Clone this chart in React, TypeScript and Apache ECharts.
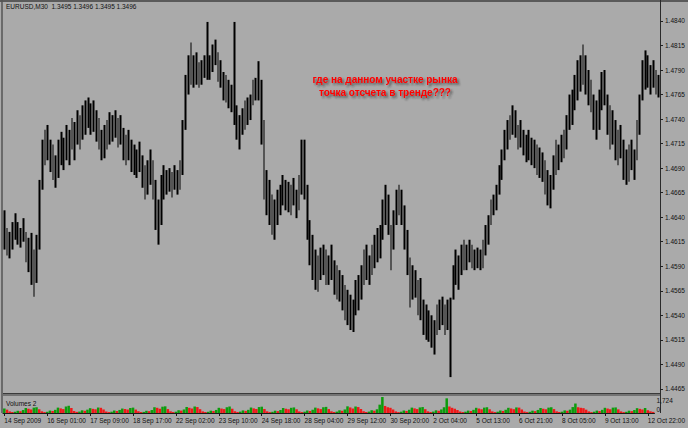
import React, { useEffect, useRef } from "react";
import * as echarts from "echarts";

const FONT = '"Liberation Sans", Arial, sans-serif';
const BG = "#aaaaaa";
const GREEN = "#0c9c0c";
const RED = "#f01818";

const titleText = "EURUSD,M30  1.3495 1.3496 1.3495 1.3496";
const noteLines = ["где на данном участке рынка", "точка отсчета в тренде???"];
const volumeTitle = "Volumes 2";

const tickLabels = [
  "14 Sep 2009", "16 Sep 01:00", "17 Sep 09:00", "18 Sep 17:00", "22 Sep 02:00",
  "23 Sep 10:00", "24 Sep 18:00", "28 Sep 04:00", "29 Sep 12:00", "30 Sep 20:00",
  "2 Oct 04:00", "5 Oct 13:00", "6 Oct 21:00", "8 Oct 05:00", "9 Oct 13:00", "12 Oct 22:00",
];

const priceTicks = [
  1.4465, 1.449, 1.4515, 1.454, 1.4565, 1.459, 1.4615, 1.464,
  1.4665, 1.469, 1.4715, 1.474, 1.4765, 1.479, 1.4815, 1.484,
];

const highs = [
  1.4647,1.4629,1.4625,1.4635,1.4644,1.4635,1.4629,1.4639,1.4625,1.4619,1.4624,1.4607,
  1.4622,1.4678,1.4719,1.4729,1.4734,1.4719,1.4714,1.4703,1.4719,1.4727,1.4721,1.4734,
  1.4729,1.4741,1.4737,1.4749,1.4744,1.4754,1.4759,1.4762,1.4756,1.4759,1.4749,1.4741,
  1.4729,1.4734,1.4739,1.4747,1.4744,1.4749,1.4741,1.4744,1.4731,1.4724,1.4729,1.4719,
  1.4714,1.4709,1.4717,1.4703,1.4693,1.4698,1.4709,1.4698,1.4678,1.4658,1.4683,1.4693,
  1.4688,1.4690,1.4686,1.4693,1.4688,1.4698,1.4739,1.4785,1.4805,1.4818,1.4805,1.4808,
  1.4798,1.4800,1.4805,1.4839,1.4805,1.4816,1.4821,1.4808,1.4800,1.4788,1.4785,1.4780,
  1.4775,1.4839,1.4754,1.4744,1.4751,1.4759,1.4762,1.4765,1.4780,1.4782,1.4799,1.4780,
  1.4739,1.4688,1.4678,1.4663,1.4658,1.4668,1.4673,1.4683,1.4678,1.4676,1.4673,1.4680,
  1.4668,1.4683,1.4719,1.4719,1.4673,1.4637,1.4622,1.4607,1.4601,1.4609,1.4612,1.4607,
  1.4601,1.4612,1.4596,1.4591,1.4586,1.4581,1.4571,1.4566,1.4561,1.4556,1.4576,1.4581,
  1.4591,1.4607,1.4612,1.4601,1.4612,1.4622,1.4629,1.4632,1.4658,1.4673,1.4663,1.4632,
  1.4647,1.4668,1.4673,1.4668,1.4652,1.4627,1.4599,1.4591,1.4586,1.4576,1.4578,1.4556,
  1.4551,1.4545,1.4540,1.4535,1.4551,1.4556,1.4559,1.4551,1.4556,1.4558,1.4591,1.4607,
  1.4601,1.4612,1.4617,1.4612,1.4617,1.4612,1.4607,1.4609,1.4607,1.4617,1.4632,1.4642,
  1.4658,1.4663,1.4673,1.4693,1.4709,1.4729,1.4739,1.4744,1.4754,1.4749,1.4734,1.4739,
  1.4729,1.4724,1.4729,1.4721,1.4719,1.4714,1.4711,1.4706,1.4698,1.4688,1.4683,1.4703,
  1.4719,1.4714,1.4724,1.4729,1.4744,1.4765,1.4770,1.4785,1.4800,1.4805,1.4816,1.4805,
  1.4790,1.4780,1.4765,1.4759,1.4770,1.4788,1.4790,1.4765,1.4754,1.4749,1.4739,1.4729,
  1.4734,1.4719,1.4709,1.4714,1.4719,1.4709,1.4739,1.4765,1.4800,1.4810,1.4805,1.4795,
  1.4800,1.4790,1.4785,
];

const lows = [
  1.4607,1.4601,1.4598,1.4607,1.4617,1.4612,1.4609,1.4615,1.4594,1.4584,1.4571,1.4559,
  1.4573,1.4607,1.4668,1.4693,1.4698,1.4686,1.4678,1.4670,1.4680,1.4693,1.4688,1.4698,
  1.4693,1.4709,1.4698,1.4714,1.4709,1.4719,1.4724,1.4731,1.4724,1.4727,1.4717,1.4709,
  1.4698,1.4700,1.4709,1.4714,1.4717,1.4721,1.4711,1.4714,1.4698,1.4693,1.4698,1.4686,
  1.4683,1.4680,1.4686,1.4670,1.4658,1.4663,1.4673,1.4658,1.4627,1.4612,1.4632,1.4658,
  1.4663,1.4666,1.4660,1.4668,1.4663,1.4668,1.4683,1.4729,1.4765,1.4775,1.4772,1.4775,
  1.4772,1.4775,1.4782,1.4780,1.4780,1.4788,1.4795,1.4778,1.4772,1.4759,1.4757,1.4751,
  1.4747,1.4734,1.4719,1.4709,1.4724,1.4729,1.4734,1.4739,1.4754,1.4759,1.4759,1.4714,
  1.4658,1.4642,1.4632,1.4622,1.4617,1.4632,1.4642,1.4652,1.4647,1.4645,1.4642,1.4652,
  1.4639,1.4647,1.4663,1.4658,1.4617,1.4591,1.4576,1.4566,1.4564,1.4576,1.4581,1.4571,
  1.4571,1.4576,1.4561,1.4556,1.4554,1.4545,1.4535,1.4530,1.4525,1.4523,1.4540,1.4545,
  1.4556,1.4571,1.4576,1.4571,1.4581,1.4588,1.4594,1.4598,1.4617,1.4632,1.4622,1.4586,
  1.4607,1.4632,1.4642,1.4632,1.4607,1.4581,1.4548,1.4556,1.4558,1.4540,1.4535,1.4520,
  1.4515,1.4513,1.4507,1.4500,1.4520,1.4525,1.4530,1.4520,1.4525,1.4477,1.4556,1.4571,
  1.4566,1.4581,1.4586,1.4586,1.4594,1.4588,1.4586,1.4588,1.4586,1.4588,1.4601,1.4612,
  1.4632,1.4642,1.4647,1.4663,1.4678,1.4698,1.4709,1.4719,1.4724,1.4721,1.4709,1.4711,
  1.4703,1.4696,1.4698,1.4693,1.4690,1.4683,1.4680,1.4676,1.4663,1.4652,1.4649,1.4668,
  1.4683,1.4688,1.4696,1.4700,1.4709,1.4729,1.4734,1.4749,1.4759,1.4768,1.4775,1.4765,
  1.4754,1.4747,1.4729,1.4719,1.4729,1.4749,1.4754,1.4724,1.4709,1.4714,1.4698,1.4693,
  1.4700,1.4678,1.4673,1.4676,1.4688,1.4678,1.4698,1.4724,1.4759,1.4770,1.4772,1.4765,
  1.4772,1.4765,1.4762,
];

const volumes = [
  480,360,170,110,140,240,190,320,540,460,380,580,
  620,400,180,100,130,260,220,340,580,500,420,700,
  780,540,210,120,150,290,240,360,520,450,400,590,
  560,380,160,100,140,270,210,330,480,430,370,540,
  580,370,190,110,120,240,200,320,620,560,460,680,
  720,420,180,100,140,300,260,380,650,560,480,700,
  640,410,170,110,130,250,210,330,560,480,420,620,
  700,460,190,110,150,280,230,340,590,500,430,640,
  680,430,180,100,130,250,200,320,540,460,400,560,
  600,400,170,100,140,270,220,350,580,500,420,620,
  660,420,180,110,150,290,240,380,720,600,480,700,
  640,430,190,110,150,300,250,400,900,1724,760,620,
  560,380,170,100,140,270,220,350,580,500,420,600,
  640,410,180,110,150,290,240,380,620,1580,700,560,
  460,320,160,100,140,260,210,340,560,480,400,580,
  620,400,170,100,140,270,220,350,560,490,410,600,
  580,380,160,100,130,250,200,330,540,460,400,580,
  620,420,180,110,140,280,240,360,640,1020,620,560,
  520,360,170,100,140,260,210,340,560,480,400,580,
  600,390,170,100,130,250,200,320,520,450,380,540,
  300,180,120,
];

const volumeMax = 1724;

export default function App() {
  const ref = useRef<HTMLDivElement>(null);

  useEffect(() => {
    if (!ref.current) return;
    const chart = echarts.init(ref.current, null, { renderer: "svg" });
    const categories = highs.map((_, i) => String(i));
    const candles = highs.map((h, i) => [lows[i], h, lows[i], h]);
    const volData = volumes.map((v, i) => ({
      value: v,
      itemStyle: { color: i > 0 && v < volumes[i - 1] ? RED : GREEN },
    }));
    const labelStyle = { fontFamily: FONT, fontSize: 6.5, color: "#111" };

    chart.setOption({
      animation: false,
      backgroundColor: BG,
      textStyle: { fontFamily: FONT },
      grid: [
        { left: 3, top: 3, width: 657, height: 390 },
        { left: 3, top: 397, width: 657, height: 16 },
      ],
      xAxis: [
        { type: "category", gridIndex: 0, data: categories, show: false },
        {
          type: "category",
          gridIndex: 1,
          data: categories,
          axisLine: { show: true, lineStyle: { color: "#1a1a1a", width: 1 } },
          axisTick: { show: true, interval: 15, alignWithLabel: true, length: 3, lineStyle: { color: "#1a1a1a" } },
          axisLabel: {
            ...labelStyle,
            interval: 15,
            align: "left",
            margin: 4,
            formatter: (_v: string, i: number) => (i % 16 === 0 && tickLabels[i / 16] ? tickLabels[i / 16] : ""),
          },
        },
      ],
      yAxis: [
        {
          type: "value",
          gridIndex: 0,
          position: "right",
          min: 1.44608,
          max: 1.48583,
          splitLine: { show: false },
          axisLine: { show: false },
          axisTick: { show: true, customValues: priceTicks, length: 3, lineStyle: { color: "#222" } },
          axisLabel: { ...labelStyle, customValues: priceTicks, margin: 5, formatter: (v: number) => v.toFixed(4) },
        },
        {
          type: "value",
          gridIndex: 1,
          position: "right",
          min: 0,
          max: volumeMax,
          splitLine: { show: false },
          axisLine: { show: false },
          axisTick: { show: false },
          axisLabel: { ...labelStyle, customValues: [volumeMax], margin: 2, verticalAlign: "top" },
        },
        {
          type: "value",
          gridIndex: 1,
          position: "right",
          min: 0,
          max: volumeMax,
          splitLine: { show: false },
          axisLine: { show: false },
          axisTick: { show: false },
          axisLabel: { ...labelStyle, customValues: [0], margin: 2, verticalAlign: "bottom" },
        },
      ],
      series: [
        {
          type: "candlestick",
          xAxisIndex: 0,
          yAxisIndex: 0,
          data: candles,
          barWidth: 2.3,
          itemStyle: { color: "#000", color0: "#000", borderColor: "#000", borderColor0: "#000", borderWidth: 0 },
        },
        {
          type: "bar",
          xAxisIndex: 1,
          yAxisIndex: 1,
          data: volData,
          barWidth: 2.5,
        },
      ],
      graphic: [
        { type: "rect", silent: true, shape: { x: 0, y: 0, width: 688, height: 2 }, style: { fill: "#5a5a5a" } },
        { type: "line", silent: true, shape: { x1: 2, y1: 0, x2: 2, y2: 413 }, style: { stroke: "#555", lineWidth: 1.5 } },
        { type: "rect", silent: true, shape: { x: 3, y: 393, width: 657, height: 3 }, style: { fill: "#737373" } },
        { type: "line", silent: true, shape: { x1: 3, y1: 393.5, x2: 660, y2: 393.5 }, style: { stroke: "#3a3a3a", lineWidth: 1 } },
        { type: "line", silent: true, shape: { x1: 660.5, y1: 0, x2: 660.5, y2: 413 }, style: { stroke: "#2a2a2a", lineWidth: 1 } },
        {
          type: "text",
          x: 6,
          y: 6.5,
          style: { text: titleText, fontFamily: FONT, fontSize: 6.5, fill: "#111", align: "left", verticalAlign: "middle", textAlign: "left", textVerticalAlign: "middle" },
        },
        {
          type: "text",
          x: 6,
          y: 403.5,
          style: { text: volumeTitle, fontFamily: FONT, fontSize: 6.5, fill: "#111", align: "left", verticalAlign: "middle", textAlign: "left", textVerticalAlign: "middle" },
        },
        ...noteLines.map((t, k) => ({
          type: "text",
          x: 385,
          y: 79 + k * 13,
          style: {
            text: t,
            fontFamily: FONT,
            fontSize: 10,
            fontWeight: "bold",
            fill: "#ff0000",
            align: "center",
            verticalAlign: "middle",
            textAlign: "center",
            textVerticalAlign: "middle",
            shadowColor: "rgba(40,40,40,0.65)",
            shadowBlur: 2,
            shadowOffsetX: 2,
            shadowOffsetY: 2,
            textShadowColor: "rgba(40,40,40,0.65)",
            textShadowBlur: 2,
            textShadowOffsetX: 2,
            textShadowOffsetY: 2,
          },
        })),
      ],
    });
    return () => chart.dispose();
  }, []);

  return <div ref={ref} style={{ position: "fixed", left: 0, top: 0, width: 688, height: 428 }} />;
}
